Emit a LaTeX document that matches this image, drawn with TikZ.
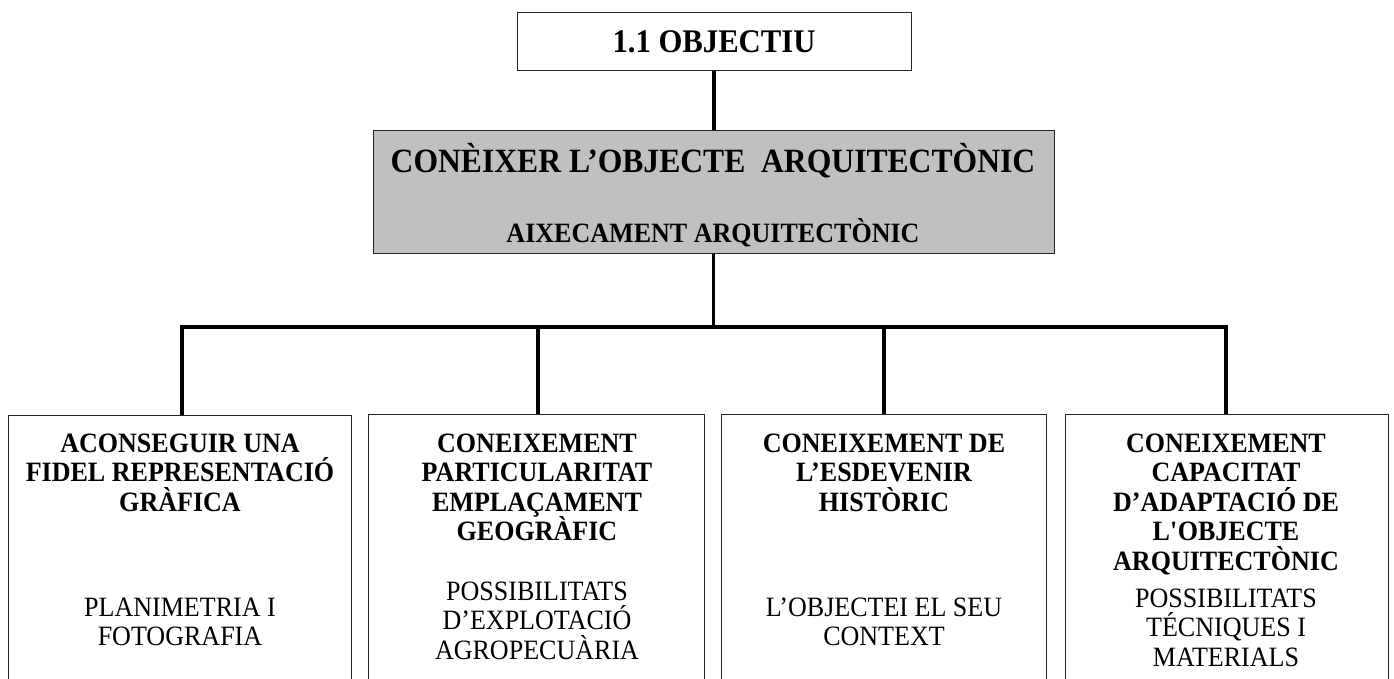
\documentclass[tikz,border=0pt]{standalone}
\usepackage{fontspec}
\usepackage{array}
\setmainfont{Liberation Serif}
\newfontfamily\narrowserif[FakeStretch=0.93]{Liberation Serif}
\definecolor{boxgray}{HTML}{C0C0C0}
\newcolumntype{C}{>{\setbox0\hbox\bgroup}c<{\egroup\ht0=0pt\dp0=0pt\box0}}
\newenvironment{lines}{\begin{tabular}[t]{@{}C@{}}}{\end{tabular}}
\begin{document}
\begin{tikzpicture}[x=1pt,y=-1pt,
  box/.style={draw=black!85, line width=1pt, inner sep=0pt},
  conn/.style={line width=3.3pt, line cap=butt, line join=miter},
  bt/.style={font=\narrowserif\bfseries\fontsize{28}{29.5}\selectfont, inner sep=0pt, anchor=base},
  rt/.style={font=\narrowserif\fontsize{28}{29.5}\selectfont, inner sep=0pt, anchor=base}]
\useasboundingbox (0,0) rectangle (1394,679);
\clip (0,0) rectangle (1394,679);
% top box
\node[box, minimum width=394pt, minimum height=58pt] (top) at (714,42) {};
\node[bt, font=\narrowserif\bfseries\fontsize{33}{36}\selectfont] (toptext) at (714,53) {1.1 OBJECTIU};
% middle box
\node[box, fill=boxgray, minimum width=681pt, minimum height=122pt] (mid) at (713.5,192) {};
\node[bt, font=\narrowserif\bfseries\fontsize{34}{38}\selectfont] (midA) at (713,173) {CONÈIXER L’OBJECTE\ \ ARQUITECTÒNIC};
\node[bt] (midB) at (713,242) {AIXECAMENT ARQUITECTÒNIC};
% bottom boxes
\node[box, minimum width=343pt, minimum height=285pt] (b1) at (179.5,557.5) {};
\node[box, minimum width=336pt, minimum height=286pt] (b2) at (536,557) {};
\node[box, minimum width=325pt, minimum height=286pt] (b3) at (883.5,557) {};
\node[box, minimum width=323pt, minimum height=286pt] (b4) at (1226.5,557) {};
% texts
\node[bt] (b1a) at (180,452) {\begin{lines}ACONSEGUIR UNA\\FIDEL REPRESENTACIÓ\\GRÀFICA\end{lines}};
\node[rt] (b1b) at (180,616) {\begin{lines}PLANIMETRIA I\\FOTOGRAFIA\end{lines}};
\node[bt] (b2a) at (537,452) {\begin{lines}CONEIXEMENT\\PARTICULARITAT\\EMPLAÇAMENT\\GEOGRÀFIC\end{lines}};
\node[rt] (b2b) at (537,600) {\begin{lines}POSSIBILITATS\\D’EXPLOTACIÓ\\AGROPECUÀRIA\end{lines}};
\node[bt] (b3a) at (884,452) {\begin{lines}CONEIXEMENT DE\\L’ESDEVENIR\\HISTÒRIC\end{lines}};
\node[rt] (b3b) at (884,616) {\begin{lines}L’OBJECTEI EL SEU\\CONTEXT\end{lines}};
\node[bt] (b4a) at (1226,452) {\begin{lines}CONEIXEMENT\\CAPACITAT\\D’ADAPTACIÓ DE\\L\textquotesingle OBJECTE\\ARQUITECTÒNIC\end{lines}};
\node[rt] (b4b) at (1226,607) {\begin{lines}POSSIBILITATS\\TÉCNIQUES I\\MATERIALS\end{lines}};
% connectors
\coordinate (bar) at (713,327);
\draw[conn] (top.south) -- (top.south |- mid.north);
\draw[conn] (mid.south) -- (mid.south |- bar);
\draw[conn] ([xshift=2.5pt]b1.north) |- (bar) -| ([xshift=-0.5pt]b4.north);
\draw[conn] ([xshift=2pt]b2.north) -- ([xshift=2pt]b2.north |- bar);
\draw[conn] ([xshift=0.5pt]b3.north) -- ([xshift=0.5pt]b3.north |- bar);
\end{tikzpicture}
\end{document}
